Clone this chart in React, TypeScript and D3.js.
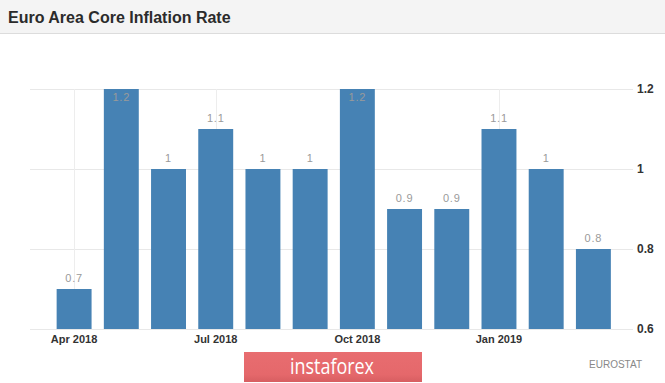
import React from "react";
import * as d3 from "d3";

const months = ["Apr 2018", "May 2018", "Jun 2018", "Jul 2018", "Aug 2018", "Sep 2018", "Oct 2018", "Nov 2018", "Dec 2018", "Jan 2019", "Feb 2019", "Mar 2019"];
const values = [0.7, 1.2, 1.0, 1.1, 1.0, 1.0, 1.2, 0.9, 0.9, 1.1, 1.0, 0.8];
const yTicks = [0.6, 0.8, 1.0, 1.2];
const xTickLabels = ["Apr 2018", "Jul 2018", "Oct 2018", "Jan 2019"];
const title = "Euro Area Core Inflation Rate";
const source = "EUROSTAT";
const brand = "instaforex";

const W = 665;
const H = 383;

export default function App() {
  const x = d3.scaleBand<string>().domain(months).range([50.5, 617]).paddingInner(0.26).paddingOuter(0.13);
  const y = d3.scaleLinear().domain([0.6, 1.2]).range([329, 89]);
  const font = "'Liberation Sans', Arial, sans-serif";
  const fmt = (v: number) => (Math.round(v * 10) / 10).toString();

  return (
    <div style={{ position: "fixed", left: 0, top: 0, width: W, height: H, background: "#fff" }}>
      <svg width={W} height={H} style={{ display: "block" }} fontFamily={font}>
        <defs>
          <linearGradient id="brandGrad" x1="0" y1="0" x2="0" y2="1">
            <stop offset="0" stopColor="#e86d70" />
            <stop offset="0.75" stopColor="#e5686b" />
            <stop offset="1" stopColor="#d75e61" />
          </linearGradient>
        </defs>
        <rect x={0} y={0} width={W} height={H} fill="#ffffff" />
        <rect x={0} y={0} width={W} height={33} fill="#f4f4f4" />
        <line x1={0} x2={W} y1={33.5} y2={33.5} stroke="#dcdcdc" />
        <text x={8} y={23} fontSize={16} fontWeight="bold" fill="#2b2b2b">{title}</text>

        {yTicks.map((t) => (
          <line key={"g" + t} x1={30} x2={633} y1={Math.round(y(t)) + 0.5} y2={Math.round(y(t)) + 0.5} stroke="#e8e8e8" />
        ))}
        {xTickLabels.map((m) => {
          const cx = Math.round((x(m) as number) + x.bandwidth() / 2) + 0.5;
          return <line key={"v" + m} x1={cx} x2={cx} y1={y(1.2)} y2={y(0.6)} stroke="#ededed" />;
        })}

        {months.map((m, i) => {
          const v = values[i];
          const bx = x(m) as number;
          const top = y(v);
          const ly = Math.max(top - 7, 101);
          return (
            <g key={m}>
              <rect x={bx} y={top} width={x.bandwidth()} height={y(0.6) - top} fill="#4682b4" />
              <text x={bx + x.bandwidth() / 2} y={ly} textAnchor="middle" fontSize={11} fill="#9a9a9a" letterSpacing={0.8}>{fmt(v)}</text>
            </g>
          );
        })}

        {yTicks.map((t) => (
          <text key={"yt" + t} x={637} y={y(t) + 4} fontSize={12} fontWeight="bold" fill="#333">{fmt(t)}</text>
        ))}
        {xTickLabels.map((m) => (
          <text key={"xt" + m} x={(x(m) as number) + x.bandwidth() / 2} y={343} textAnchor="middle" fontSize={11} fontWeight="bold" fill="#333">{m}</text>
        ))}

        <text x={642} y={368} textAnchor="end" fontSize={10} fill="#888">{source}</text>

        <rect x={244} y={352} width={178} height={30} fill="url(#brandGrad)" />
        <text x={290} y={374} textLength={84} lengthAdjust="spacingAndGlyphs" fontSize={21} fill="#ffffff" fontFamily="'Open Sans', 'DejaVu Sans', sans-serif">{brand}</text>
      </svg>
    </div>
  );
}
